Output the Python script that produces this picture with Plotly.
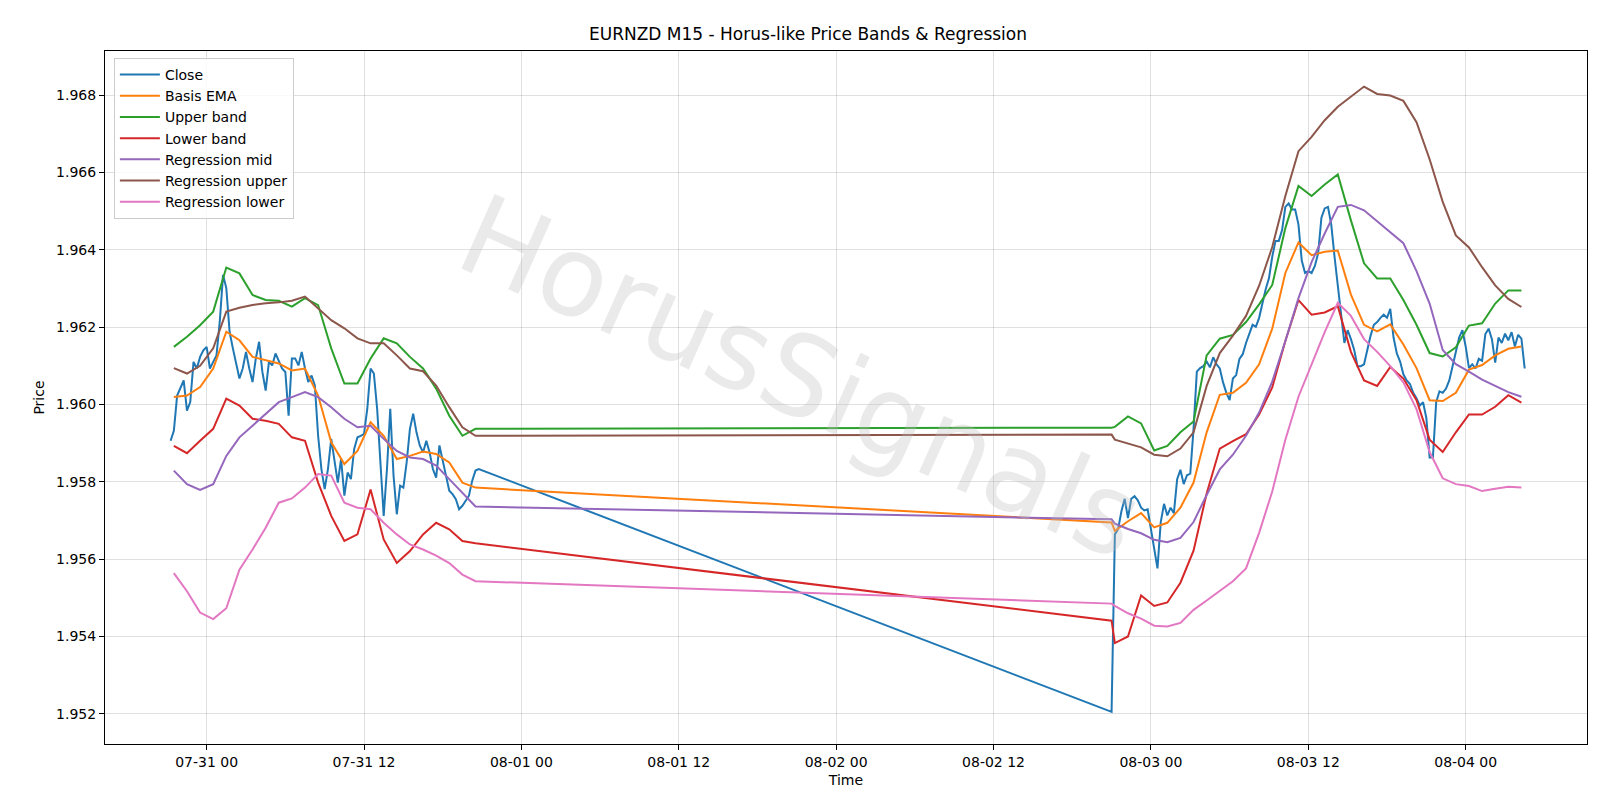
import pandas as pd
import plotly.graph_objects as go

# ---------------- data ----------------
close_seg1_start = "2025-07-30 21:15"
close_seg1 = [1.95906,1.95932,1.96023,1.96045,1.96062,1.95984,1.96006,1.96110,1.96093,1.96123,
1.96140,1.96149,1.96093,1.96110,1.96127,1.96214,1.96335,1.96301,1.96188,1.96145,
1.96110,1.96067,1.96093,1.96136,1.96093,1.96058,1.96119,1.96162,1.96084,1.96036,
1.96110,1.96101,1.96132,1.96110,1.96093,1.96084,1.95971,1.96119,1.96119,1.96101,
1.96136,1.96093,1.96058,1.96075,1.96049,1.95919,1.95833,1.95781,1.95833,1.95911,
1.95850,1.95798,1.95859,1.95764,1.95824,1.95807,1.95885,1.95915,1.95919,1.95924,
1.95989,1.96093,1.96080,1.95989,1.95850,1.95712,1.95833,1.95989,1.95816,1.95716,
1.95790,1.95785,1.95850,1.95937,1.95976,1.95928,1.95894,1.95876,1.95906,1.95876,
1.95833,1.95811,1.95894,1.95859,1.95816,1.95777,1.95768,1.95755,1.95729,1.95738,
1.95751,1.95764,1.95803,1.95829,1.95833]

close_seg2_start = "2025-08-02 21:00"
close_seg2 = [1.95205,
1.95664,1.95678,1.95724,1.95756,1.95706,1.95756,1.95763,1.95752,1.95733,1.95726,
1.95729,1.95678,1.95636,1.95576,1.95696,1.95743,1.95713,1.95733,1.95719,1.95807,
1.95831,1.95794,1.95817,1.95821,1.95937,1.96085,1.96094,1.96099,1.96111,1.96096,
1.96122,1.96104,1.96093,1.96057,1.96030,1.96011,1.96067,1.96076,1.96118,1.96130,
1.96159,1.96182,1.96206,1.96201,1.96224,1.96261,1.96298,1.96326,1.96382,1.96423,
1.96423,1.96451,1.96511,1.96520,1.96504,1.96504,1.96465,1.96372,1.96340,1.96345,
1.96340,1.96358,1.96391,1.96483,1.96507,1.96511,1.96465,1.96382,1.96298,1.96233,
1.96159,1.96192,1.96169,1.96141,1.96099,1.96099,1.96104,1.96145,1.96178,1.96206,
1.96213,1.96224,1.96232,1.96224,1.96247,1.96173,1.96132,1.96111,1.96078,1.96062,
1.96053,1.96030,1.96016,1.95997,1.96006,1.95965,1.95863,1.95863,1.96006,1.96034,
1.96030,1.96041,1.96062,1.96099,1.96136,1.96173,1.96192,1.96150,1.96094,1.96104,
1.96093,1.96118,1.96113,1.96182,1.96196,1.96169,1.96108,1.96173,1.96159,
1.96183,1.96166,1.96187,1.96150,1.96180,1.96170,1.96093]

band_seg1_start = "2025-07-30 21:30"
band_seg2_first = "2025-08-02 21:00"
band_seg2_start = "2025-08-02 21:15"

upper_seg1 = [1.96149,1.96175,1.96205,1.96240,1.96354,1.96339,1.96283,1.96270,1.96268,1.96253,
1.96275,1.96257,1.96145,1.96054,1.96054,1.96119,1.96171,1.96158,1.96123,1.96093,
1.96041,1.95971,1.95919,1.95937]
upper_seg2 = [1.95940,1.95942,1.95969,1.95951,1.95881,1.95893,1.95928,1.95956,1.96127,1.96170,
1.96180,1.96213,1.96259,1.96309,1.96456,1.96565,1.96539,1.96569,1.96595,1.96476,
1.96365,1.96326,1.96326,1.96270,1.96206,1.96133,1.96124,1.96148,1.96204,1.96210,
1.96261,1.96295,1.96295]

ema_seg1 = [1.96019,1.96023,1.96045,1.96093,1.96188,1.96166,1.96123,1.96114,1.96106,1.96088,
1.96093,1.96023,1.95902,1.95846,1.95880,1.95954,1.95919,1.95859,1.95867,1.95878,
1.95872,1.95850,1.95798,1.95785]
ema_seg2 = [1.95695,1.95673,1.95698,1.95719,1.95682,1.95694,1.95733,1.95798,1.95928,1.96025,
1.96030,1.96056,1.96104,1.96196,1.96340,1.96419,1.96386,1.96395,1.96398,1.96284,
1.96206,1.96189,1.96207,1.96155,1.96094,1.96011,1.96009,1.96030,1.96090,1.96102,
1.96127,1.96144,1.96150]

lower_seg1 = [1.95893,1.95874,1.95906,1.95937,1.96015,1.95997,1.95963,1.95958,1.95950,1.95915,
1.95906,1.95798,1.95712,1.95647,1.95664,1.95780,1.95651,1.95590,1.95621,1.95664,
1.95694,1.95677,1.95647,1.95641]
lower_seg2 = [1.95441,1.95383,1.95400,1.95506,1.95479,1.95488,1.95539,1.95622,1.95770,1.95886,
1.95905,1.95923,1.95974,1.96044,1.96164,1.96270,1.96232,1.96238,1.96254,1.96136,
1.96062,1.96048,1.96097,1.96067,1.96011,1.95909,1.95877,1.95928,1.95974,1.95974,
1.95994,1.96024,1.96005]

regmid_seg1 = [1.95829,1.95794,1.95779,1.95794,1.95867,1.95915,1.95945,1.95976,1.96006,1.96019,
1.96032,1.96019,1.95993,1.95963,1.95941,1.95945,1.95911,1.95880,1.95863,1.95859,
1.95842,1.95807,1.95772,1.95736]
regmid_seg2 = [1.95703,1.95692,1.95678,1.95667,1.95650,1.95644,1.95655,1.95696,1.95766,1.95832,
1.95870,1.95919,1.95979,1.96059,1.96164,1.96275,1.96368,1.96442,1.96511,1.96516,
1.96502,1.96474,1.96445,1.96417,1.96345,1.96261,1.96141,1.96104,1.96085,1.96064,
1.96048,1.96032,1.96020]

regup_seg1 = [1.96094,1.96080,1.96100,1.96145,1.96240,1.96250,1.96257,1.96262,1.96264,1.96268,
1.96279,1.96249,1.96218,1.96197,1.96171,1.96158,1.96158,1.96127,1.96093,1.96086,
1.96049,1.95993,1.95941,1.95919]
regup_seg2 = [1.95922,1.95909,1.95898,1.95889,1.95870,1.95866,1.95886,1.95928,1.96048,1.96133,
1.96178,1.96229,1.96307,1.96407,1.96539,1.96655,1.96692,1.96735,1.96770,1.96796,
1.96822,1.96803,1.96799,1.96785,1.96730,1.96634,1.96524,1.96437,1.96406,1.96355,
1.96308,1.96273,1.96252]

reglow_seg1 = [1.95564,1.95517,1.95462,1.95445,1.95473,1.95573,1.95625,1.95681,1.95746,1.95757,
1.95785,1.95820,1.95816,1.95746,1.95733,1.95729,1.95694,1.95664,1.95638,1.95625,
1.95609,1.95590,1.95560,1.95543]
reglow_seg2 = [1.95485,1.95479,1.95460,1.95446,1.95428,1.95426,1.95435,1.95469,1.95493,1.95518,
1.95543,1.95576,1.95668,1.95775,1.95909,1.96020,1.96104,1.96187,1.96263,1.96229,
1.96169,1.96136,1.96099,1.96057,1.95988,1.95877,1.95809,1.95794,1.95789,1.95776,
1.95782,1.95787,1.95785]

x_ticks = ["2025-07-31 00:00","2025-07-31 12:00","2025-08-01 00:00","2025-08-01 12:00",
           "2025-08-02 00:00","2025-08-02 12:00","2025-08-03 00:00","2025-08-03 12:00",
           "2025-08-04 00:00"]
x_ticklabels = ["07-31 00","07-31 12","08-01 00","08-01 12","08-02 00","08-02 12",
                "08-03 00","08-03 12","08-04 00"]
y_ticks = [1.952,1.954,1.956,1.958,1.960,1.962,1.964,1.966,1.968]

# ---------------- build ----------------
t_close = list(pd.date_range(close_seg1_start, periods=len(close_seg1), freq="15min")) + \
          list(pd.date_range(close_seg2_start, periods=len(close_seg2), freq="15min"))
close = close_seg1 + close_seg2

def band_times(n2):
    return list(pd.date_range(band_seg1_start, periods=len(upper_seg1), freq="h")) + \
           [pd.Timestamp(band_seg2_first)] + \
           list(pd.date_range(band_seg2_start, periods=n2 - 1, freq="h"))

series = [
    ("Basis EMA", ema_seg1, ema_seg2, "#ff7f0e"),
    ("Upper band", upper_seg1, upper_seg2, "#2ca02c"),
    ("Lower band", lower_seg1, lower_seg2, "#d62728"),
    ("Regression mid", regmid_seg1, regmid_seg2, "#9467bd"),
    ("Regression upper", regup_seg1, regup_seg2, "#8c564b"),
    ("Regression lower", reglow_seg1, reglow_seg2, "#e377c2"),
]

fig = go.Figure()
fig.add_trace(go.Scatter(x=t_close, y=close, mode="lines", name="Close",
                         line=dict(color="#1f77b4", width=2)))
for name, s1, s2, col in series:
    fig.add_trace(go.Scatter(x=band_times(len(s2)), y=s1 + s2, mode="lines", name=name,
                             line=dict(color=col, width=2)))

fig.add_annotation(text="HorusSignals", xref="paper", yref="paper", x=0.47, y=0.53,
                   showarrow=False, textangle=24,
                   font=dict(size=112, color="rgba(190,190,190,0.32)", family="DejaVu Sans"))

axis_common = dict(showline=True, linecolor="black", linewidth=1, mirror=True,
                   ticks="outside", ticklen=5, tickcolor="black",
                   showgrid=True, gridcolor="rgba(0,0,0,0.12)", gridwidth=1,
                   zeroline=False, tickfont=dict(size=14, color="black"))

fig.update_layout(
    width=1600, height=800,
    paper_bgcolor="white", plot_bgcolor="white",
    font=dict(family="DejaVu Sans", color="black"),
    title=dict(text="EURNZD M15 - Horus-like Price Bands & Regression", x=0.5, xanchor="center",
               y=0.967, yanchor="middle", font=dict(size=17)),
    margin=dict(l=97, r=21, t=43, b=64),
    legend=dict(x=0.006, y=0.99, xanchor="left", yanchor="top",
                bgcolor="rgba(255,255,255,0.8)", bordercolor="#cccccc", borderwidth=1,
                font=dict(size=14), tracegroupgap=0, itemwidth=40),
    showlegend=True,
)
fig.update_xaxes(range=["2025-07-30 16:15", "2025-08-04 09:15"], tickvals=x_ticks,
                 ticktext=x_ticklabels, title=dict(text="Time", font=dict(size=14), standoff=6),
                 **axis_common)
fig.update_yaxes(range=[1.95122, 1.96914], tickvals=y_ticks, tickformat=".3f",
                 title=dict(text="Price", font=dict(size=14), standoff=8), **axis_common)

fig.write_html("out.html")
